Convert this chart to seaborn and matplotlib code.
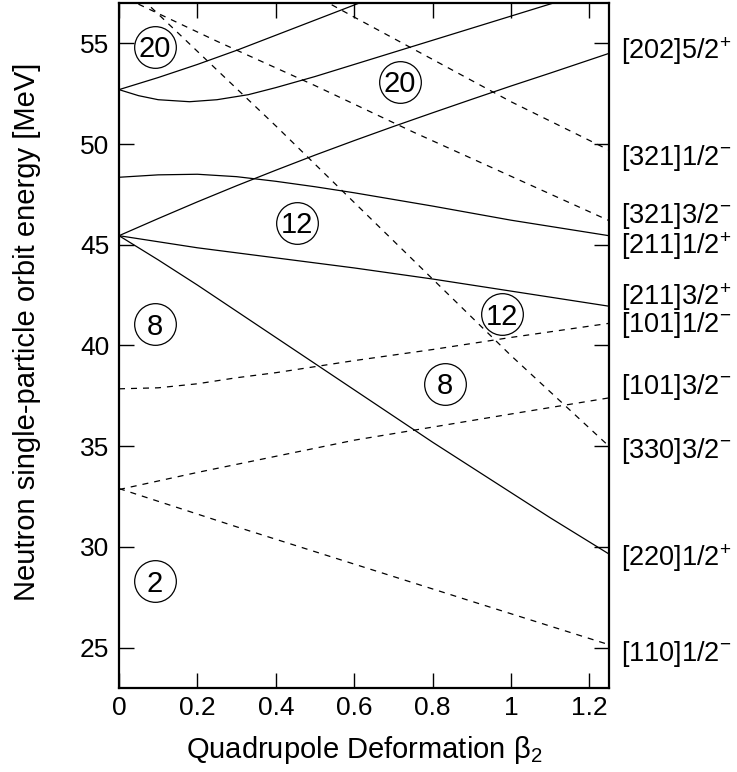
import numpy as np
import pandas as pd
import matplotlib
matplotlib.use('Agg')
import matplotlib.pyplot as plt
import matplotlib.transforms as mtransforms
import seaborn as sns

# single-particle levels (beta_2, energy in MeV)
beta_202_a = [0.0, 0.1, 0.2, 0.3, 0.4, 0.5, 0.6, 0.7]
e_202_a = [52.7, 53.3, 53.95, 54.65, 55.4, 56.15, 56.9, 57.65]

beta_202_b = [0.0, 0.05, 0.1, 0.18, 0.25, 0.33, 0.4, 0.5, 0.6, 0.7, 0.8, 0.9, 1.0, 1.1, 1.2]
e_202_b = [52.7, 52.4, 52.2, 52.1, 52.2, 52.45, 52.8, 53.35, 53.95, 54.55, 55.15, 55.75, 56.35, 56.95, 57.55]

beta_202_52 = [0.0, 0.1, 0.2, 0.3, 0.4, 0.5, 0.6, 0.7, 0.8, 0.9, 1.0, 1.1, 1.25]
e_202_52 = [45.45, 46.3, 47.13, 47.93, 48.7, 49.45, 50.17, 50.87, 51.55, 52.22, 52.88, 53.52, 54.5]

beta_211_12 = [0.0, 0.1, 0.2, 0.3, 0.4, 0.5, 0.6, 0.8, 1.0, 1.25]
e_211_12 = [48.35, 48.47, 48.5, 48.38, 48.15, 47.88, 47.58, 46.92, 46.22, 45.45]

beta_211_32 = [0.0, 0.2, 0.4, 0.6, 0.8, 1.0, 1.25]
e_211_32 = [45.45, 44.85, 44.35, 43.85, 43.3, 42.7, 41.95]

beta_220_12 = [0.0, 0.1, 0.2, 0.3, 0.4, 0.5, 0.6, 0.7, 0.8, 0.9, 1.0, 1.1, 1.25]
e_220_12 = [45.45, 44.25, 43.0, 41.7, 40.4, 39.1, 37.8, 36.5, 35.2, 33.95, 32.7, 31.45, 29.65]

beta_321_12 = [0.45, 0.6, 0.8, 1.0, 1.25]
e_321_12 = [57.9, 56.3, 54.2, 52.1, 49.7]

beta_321_32 = [0.0, 0.25, 0.5, 0.75, 1.0, 1.25]
e_321_32 = [57.4, 55.1, 52.9, 50.6, 48.4, 46.2]

beta_330_32 = [0.0, 0.2, 0.4, 0.6, 0.8, 1.0, 1.25]
e_330_32 = [58.3, 54.6, 50.9, 47.1, 43.3, 39.5, 35.0]

beta_101_12 = [0.0, 0.1, 0.2, 0.3, 0.4, 0.5, 0.6, 0.8, 1.0, 1.25]
e_101_12 = [37.85, 37.9, 38.1, 38.4, 38.65, 38.95, 39.25, 39.8, 40.4, 41.1]

beta_101_32 = [0.0, 0.2, 0.4, 0.6, 0.8, 1.0, 1.25]
e_101_32 = [32.85, 33.7, 34.5, 35.3, 35.95, 36.6, 37.4]

beta_110_12 = [0.0, 0.3, 0.6, 0.9, 1.25]
e_110_12 = [32.9, 31.0, 29.15, 27.3, 25.15]

# magic-number circles
magic_text = ['20', '20', '12', '12', '8', '8', '2']
magic_beta = [0.092, 0.717, 0.454, 0.977, 0.092, 0.832, 0.092]
magic_e = [54.82, 53.09, 46.1, 41.55, 41.06, 38.09, 28.29]

# right-hand orbit labels (baseline energy)
orbit_labels = [r'[202]5/2$^{+}$', r'[321]1/2$^{-}$', r'[321]3/2$^{-}$', r'[211]1/2$^{+}$',
                r'[211]3/2$^{+}$', r'[101]1/2$^{-}$', r'[101]3/2$^{-}$', r'[330]3/2$^{-}$',
                r'[220]1/2$^{+}$', r'[110]1/2$^{-}$']
orbit_label_e = [54.2, 48.95, 46.08, 44.52, 42.0, 40.65, 37.6, 34.4, 29.05, 24.35]

x_ticks = [0, 0.2, 0.4, 0.6, 0.8, 1.0, 1.2]
x_ticklabels = ['0', '0.2', '0.4', '0.6', '0.8', '1', '1.2']
y_ticks = [25, 30, 35, 40, 45, 50, 55]

levels = [
    ('a', '+', beta_202_a, e_202_a),
    ('b', '+', beta_202_b, e_202_b),
    ('202_52', '+', beta_202_52, e_202_52),
    ('211_12', '+', beta_211_12, e_211_12),
    ('211_32', '+', beta_211_32, e_211_32),
    ('220_12', '+', beta_220_12, e_220_12),
    ('321_12', '-', beta_321_12, e_321_12),
    ('321_32', '-', beta_321_32, e_321_32),
    ('330_32', '-', beta_330_32, e_330_32),
    ('101_12', '-', beta_101_12, e_101_12),
    ('101_32', '-', beta_101_32, e_101_32),
    ('110_12', '-', beta_110_12, e_110_12),
]
df = pd.concat([pd.DataFrame({'beta': b, 'energy': e, 'orbit': name, 'parity': par})
                for name, par, b, e in levels], ignore_index=True)

sns.set_theme(style='ticks')
plt.rcParams['font.family'] = ['Liberation Sans', 'DejaVu Sans']
plt.rcParams['mathtext.fontset'] = 'custom'
plt.rcParams['mathtext.rm'] = 'Liberation Sans'
plt.rcParams['mathtext.it'] = 'Liberation Sans:italic'
for k in ['text.color', 'axes.labelcolor', 'xtick.color', 'ytick.color', 'axes.edgecolor']:
    plt.rcParams[k] = 'black'

fig = plt.figure(figsize=(7.37, 7.72), dpi=100)
ax = fig.add_axes([119/737, 1 - 688/772, 490/737, 685/772])

sns.lineplot(data=df, x='beta', y='energy', units='orbit', estimator=None,
             style='parity', dashes={'+': '', '-': (4.8, 4.8)},
             color='black', lw=0.9, sort=False, legend=False, ax=ax)

ax.scatter(magic_beta, magic_e, s=900, facecolors='white', edgecolors='black',
           linewidths=0.9, zorder=3)
for t, b, e in zip(magic_text, magic_beta, magic_e):
    ax.annotate(t, (b, e), xytext=(0, -0.358 * 21), textcoords='offset points',
                ha='center', va='baseline', fontsize=21, zorder=4)

trans = mtransforms.blended_transform_factory(ax.transAxes, ax.transData)
for lab, e in zip(orbit_labels, orbit_label_e):
    ax.text(1.024, e, lab, transform=trans, ha='left', va='baseline',
            fontsize=19.5, clip_on=False)

ax.set_xlim(0, 1.25)
ax.set_ylim(23, 57)
ax.set_xticks(x_ticks)
ax.set_xticklabels(x_ticklabels)
ax.set_yticks(y_ticks)
ax.tick_params(direction='in', length=10.8, width=1, top=True, right=True,
               labelsize=19, color='black')
ax.tick_params(axis='y', pad=7)
ax.tick_params(axis='x', pad=6)
for s in ax.spines.values():
    s.set_linewidth(1.6)
    s.set_color('black')

ax.set_xlabel(r'Quadrupole Deformation β$_2$', fontsize=21, labelpad=10)
ax.set_ylabel('Neutron single-particle orbit energy [MeV]', fontsize=21)
ax.yaxis.set_label_coords(-0.16, 0.52)

fig.savefig('out.png', dpi=100)
